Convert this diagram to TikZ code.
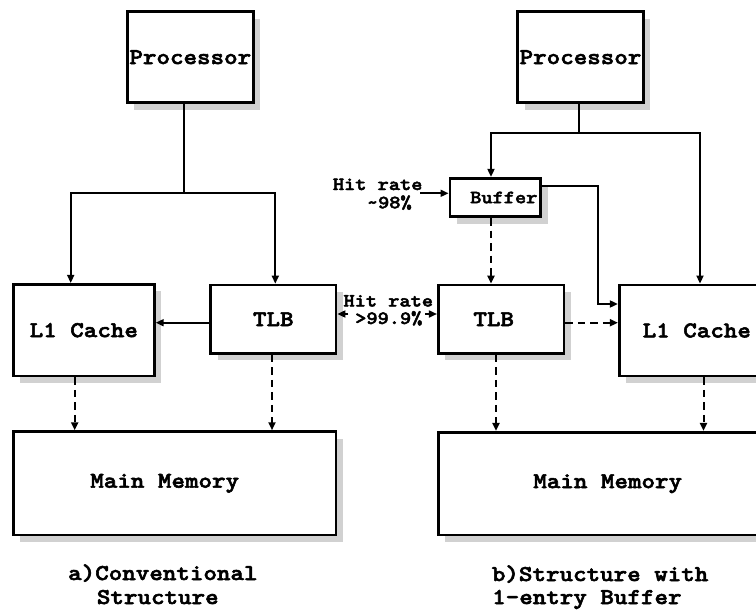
\documentclass[tikz,border=0pt]{standalone}
\usepackage{fontspec}
% heavy typewriter face, widened to the usual Courier advance of 0.6em
\newfontfamily\courbold{lmmonolt10-bold}[Extension=.otf, FakeStretch=1.14, FakeBold=2.5]
\usetikzlibrary{arrows.meta,shadows}
\begin{document}
\begin{tikzpicture}[x=1pt,y=-1pt,
  bigfont/.style={font=\courbold\fontsize{22.6pt}{24pt}\selectfont},
  smallfont/.style={font=\courbold\fontsize{18.7pt}{19pt}\selectfont},
  box/.style={draw, fill=white, line width=2.8pt, inner sep=0pt, bigfont,
    drop shadow={shadow xshift=7pt, shadow yshift=-7pt, fill=black!18, opacity=1}},
  plain/.style={line width=1.7pt},
  conn/.style={line width=1.7pt, -{Triangle[length=8pt,width=7pt]}},
  dashconn/.style={conn, line width=2pt, dash pattern=on 7.5pt off 5pt},
  lbl/.style={inner sep=0pt, anchor=base west, smallfont},
  captxt/.style={inner sep=0pt, anchor=base west, bigfont}]

\useasboundingbox (0,0) rectangle (756,610);
\clip (0,0) rectangle (756,610);
\fill[white] (0,0) rectangle (756,610);

% ---- a) conventional structure ----
\node[box, minimum width=126pt, minimum height=91pt] (procA) at (190.3,57.2) {Processor};
\node[box, minimum width=141pt, minimum height=91.7pt] (l1A) at (83.8,330.2) {L1 Cache};
\node[box, minimum width=125.3pt, minimum height=68.3pt] (tlbA) at (273.3,319.2) {TLB};
\node[box, minimum width=322.7pt, minimum height=103.3pt] (memA) at (174.7,483.3) {Main Memory\hspace*{20pt}};

% ---- b) structure with a one-entry buffer ----
\node[box, minimum width=125.6pt, minimum height=91pt] (procB) at (580.5,57.2) {Processor};
\node[box, smallfont, minimum width=90.7pt, minimum height=38.4pt] (bufB) at (495.3,197.5) {\hspace*{17pt}Buffer};
\node[box, minimum width=125.7pt, minimum height=68.3pt] (tlbB) at (501.2,319.2) {TLB\hspace*{15pt}};
\node[box, minimum width=141pt, minimum height=91pt] (l1B) at (689.8,330.5) {\hspace*{14pt}L1 Cache};
\node[box, minimum width=322.7pt, minimum height=102.7pt] (memB) at (599.7,483.7) {\hspace*{16pt}Main Memory};

% connectors, left
\coordinate (jA) at (184.3,193.3);
\draw[plain] (procA.south -| jA) -- (jA);
\draw[conn] (jA) -| ([xshift=-13.1pt]l1A.north);
\draw[conn] (jA) -| ([xshift=2pt]tlbA.north);
\coordinate (tA) at ([yshift=-3.5pt]tlbA.west);
\draw[conn] (tA) -- (tA -| l1A.east);
\coordinate (dA1) at ([xshift=-9.1pt]l1A.south);
\draw[dashconn] (dA1) -- (dA1 |- memA.north);
\coordinate (dA2) at ([xshift=-1.3pt]tlbA.south);
\draw[dashconn] (dA2) -- (dA2 |- memA.north);

% connectors, right
\coordinate (jB) at (578.7,133.3);
\draw[plain] (procB.south -| jB) -- (jB);
\draw[conn] (jB) -| ([xshift=-4.3pt]bufB.north);
\draw[conn] (jB) -| ([xshift=10.2pt]l1B.north);
\coordinate (bE) at ([yshift=11.5pt]bufB.east);
\coordinate (kB) at (597.7,304);
\coordinate (lW) at (kB -| l1B.west);
\draw[conn] (bE) -| (kB) -- (lW);
\coordinate (dB1) at ([xshift=-4.3pt]bufB.south);
\draw[dashconn] (dB1) -- (dB1 |- tlbB.north);
\coordinate (tB) at ([yshift=-3.5pt]tlbB.east);
\draw[dashconn] (tB) -- (tB -| l1B.west);
\coordinate (dB2) at ([xshift=-5.2pt]tlbB.south);
\draw[dashconn] (dB2) -- (dB2 |- memB.north);
\coordinate (dB3) at ([xshift=13.7pt]l1B.south);
\draw[dashconn] (dB3) -- (dB3 |- memB.north);

% hit-rate annotations
\node[lbl] (hitB1) at (332.7,190) {Hit rate};
\node[lbl] (hitB2) at (366.7,208.3) {\textasciitilde98\%};
\coordinate (hB) at (420,193.3);
\draw[conn] (hB) -- (hB -| bufB.west);

\node[lbl] (hitM1) at (343.3,306.5) {Hit rate};
\node[lbl] (hitM2) at (355,324) {>99.9\%};
\coordinate (mL) at (348.3,314);
\coordinate (mR) at (425,314);
\draw[conn] (mL) -- (mL -| tlbA.east);
\draw[conn] (mR) -- (mR -| tlbB.west);

% captions
\node[captxt] (capA1) at (68,580) {a)Conventional};
\node[captxt] (capA2) at (96.7,604) {Structure};
\node[captxt] (capB1) at (491.7,581) {b)Structure with};
\node[captxt] (capB2) at (492,604) {1-entry Buffer};
\end{tikzpicture}
\end{document}
